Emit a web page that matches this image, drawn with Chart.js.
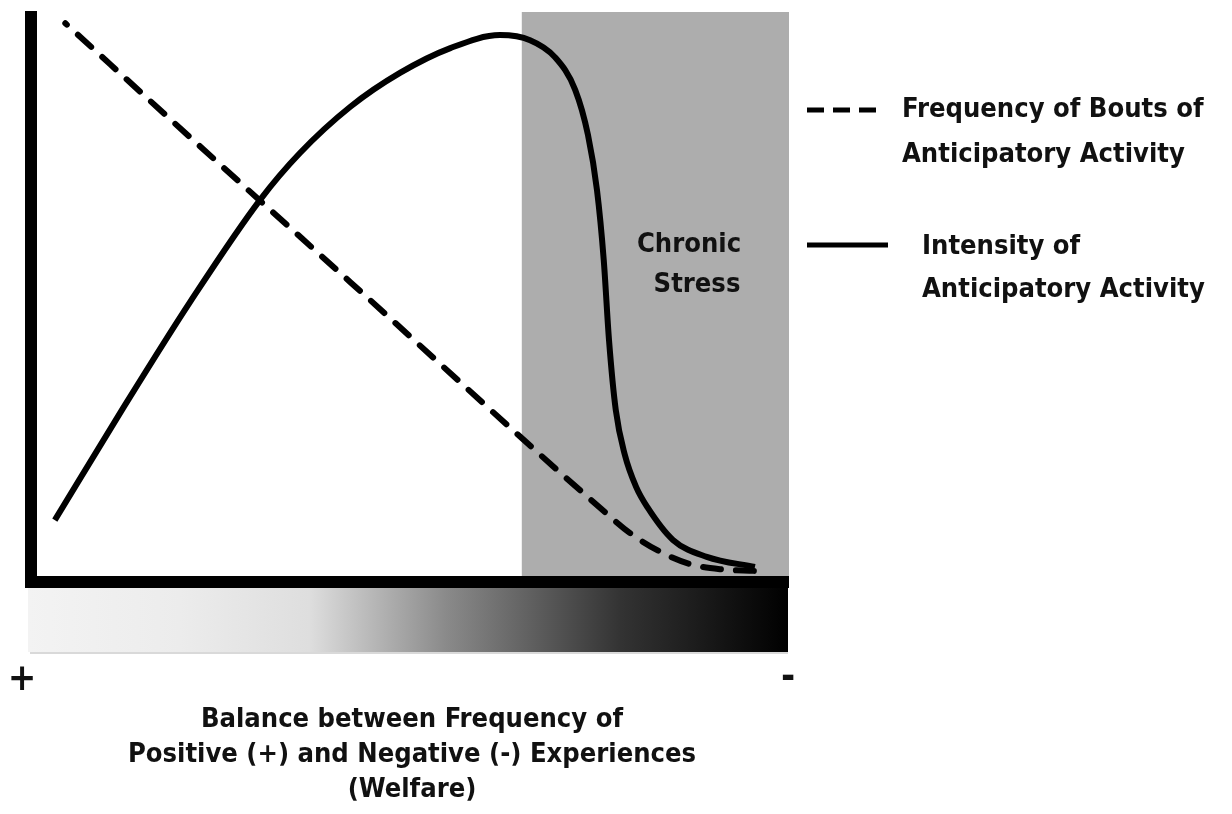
<!DOCTYPE html>
<html>
<head>
<meta charset="utf-8">
<script src="https://cdn.jsdelivr.net/npm/chart.js@4.4.0/dist/chart.umd.min.js"></script>
<style>
html, body { margin: 0; padding: 0; background: #fff; }
#wrap { width: 1232px; height: 814px; }
</style>
</head>
<body>
<div id="wrap"><canvas id="myChart" width="1232" height="814"></canvas></div>
<script>
/*** Datos (escala 0-100 en ambos ejes) ***/
// Frequency of Bouts of Anticipatory Activity (linea punteada)
const freqX = [3.9, 21.8, 41.8, 75.0, 79.0, 83.0, 87.0, 91.0, 95.6];
const freqY = [98.0, 76.2, 52.1, 12.1, 7.6, 4.3, 2.1, 1.2, 0.9];
// Intensity of Anticipatory Activity (linea continua)
const intX = [2.5, 11.6, 20.5, 29.8, 35.1, 41.8, 48.4, 55.1, 61.7, 65.7, 69.0, 71.7, 73.4, 74.6, 75.5, 76.2, 77.1, 78.3, 79.8, 81.3, 84.7, 89.2, 95.6];
const intY = [9.9, 29.8, 48.6, 66.7, 75.0, 83.2, 89.2, 93.6, 95.9, 95.0, 92.0, 86.2, 78.2, 68.4, 56.0, 41.8, 29.4, 21.5, 15.8, 12.2, 6.4, 3.4, 1.6];
// Zona de estres cronico
const stressRange = [64.6, 100];

const legendLabels = [
    ['Frequency of Bouts of', 'Anticipatory Activity'],
    ['Intensity of', 'Anticipatory Activity']
];
const bandLabel = ['Chronic', 'Stress'];
const axisTitle = ['Balance between Frequency of', 'Positive (+) and Negative (-) Experiences', '(Welfare)'];
const axisEnds = ['+', '-'];

const FONT = '"Liberation Sans Narrow", "DejaVu Sans Condensed", "Open Sans", sans-serif';

function toPoints(xs, ys) {
    return xs.map(function (x, i) { return {x: x, y: ys[i]}; });
}

/*** Banda gris ***/
const bandPlugin = {
    id: 'band',
    beforeDatasetsDraw(chart) {
        const ctx = chart.ctx;
        const xs = chart.scales.x, ys = chart.scales.y;
        const x0 = xs.getPixelForValue(stressRange[0]);
        const x1 = xs.getPixelForValue(stressRange[1]);
        ctx.save();
        ctx.fillStyle = '#adadad';
        ctx.fillRect(x0, ys.getPixelForValue(100), x1 - x0 + 1, ys.getPixelForValue(0) - ys.getPixelForValue(100));
        ctx.restore();
    }
};

/*** Ejes, degradado, textos y leyenda ***/
const decorPlugin = {
    id: 'decor',
    afterDatasetsDraw(chart) {
        const ctx = chart.ctx;
        const a = chart.chartArea;
        ctx.save();
        // ejes gruesos
        ctx.fillStyle = '#000';
        ctx.fillRect(a.left - 11, a.top - 1, 12, a.bottom - a.top + 13);
        ctx.fillRect(a.left - 11, a.bottom, a.right - a.left + 12, 12);
        // barra degradada
        const g = ctx.createLinearGradient(28, 0, 788, 0);
        g.addColorStop(0, '#f3f3f3');
        g.addColorStop(0.2, '#ececec');
        g.addColorStop(0.37, '#dedede');
        g.addColorStop(0.55, '#8a8a8a');
        g.addColorStop(0.78, '#333333');
        g.addColorStop(1, '#000000');
        ctx.fillStyle = g;
        ctx.fillRect(28, a.bottom + 12, 760, 64);
        ctx.fillStyle = 'rgba(0,0,0,0.15)';
        ctx.fillRect(30, a.bottom + 76, 758, 2);

        ctx.fillStyle = '#111';
        ctx.textBaseline = 'middle';
        // ajustar tamaño de letra al ancho del titulo
        let size = 28;
        ctx.font = 'bold ' + size + 'px ' + FONT;
        size = size * 569 / ctx.measureText(axisTitle[1]).width;
        ctx.font = 'bold ' + size.toFixed(1) + 'px ' + FONT;

        ctx.textAlign = 'center';
        axisTitle.forEach(function (t, i) { ctx.fillText(t, 412, 720 + i * 35); });
        ctx.fillText(bandLabel[0], 689, 245);
        ctx.fillText(bandLabel[1], 697, 285);

        ctx.textAlign = 'left';
        ctx.fillText(legendLabels[0][0], 902, 110);
        ctx.fillText(legendLabels[0][1], 902, 155);
        ctx.fillText(legendLabels[1][0], 922, 247);
        ctx.fillText(legendLabels[1][1], 922, 290);

        ctx.textAlign = 'center';
        ctx.font = 'bold ' + (size * 1.4).toFixed(1) + 'px ' + FONT;
        ctx.fillText(axisEnds[0], 22, 680);
        ctx.fillText(axisEnds[1], 788, 678);

        // muestras de la leyenda
        ctx.strokeStyle = '#000';
        ctx.lineWidth = 5;
        ctx.lineCap = 'butt';
        ctx.setLineDash([17, 9]);
        ctx.beginPath(); ctx.moveTo(807, 110); ctx.lineTo(882, 110); ctx.stroke();
        ctx.setLineDash([]);
        ctx.beginPath(); ctx.moveTo(807, 245); ctx.lineTo(888, 245); ctx.stroke();
        ctx.restore();
    }
};

const ctx = document.getElementById('myChart').getContext('2d');
const chart = new Chart(ctx, {
    type: 'line',
    data: {
        datasets: [
            {
                label: 'Frequency of Bouts of Anticipatory Activity',
                data: toPoints(freqX, freqY),
                borderColor: '#000',
                borderWidth: 6,
                borderDash: [18, 15],
                borderDashOffset: 16,
                borderCapStyle: 'round',
                cubicInterpolationMode: 'monotone',
                pointRadius: 0,
                fill: false
            },
            {
                label: 'Intensity of Anticipatory Activity',
                data: toPoints(intX, intY),
                borderColor: '#000',
                borderWidth: 6,
                borderCapStyle: 'butt',
                cubicInterpolationMode: 'monotone',
                pointRadius: 0,
                fill: false
            }
        ]
    },
    options: {
        responsive: false,
        animation: false,
        layout: { padding: { left: 36, top: 12, right: 444, bottom: 238 } },
        scales: {
            x: { type: 'linear', min: 0, max: 100, display: false },
            y: { type: 'linear', min: 0, max: 100, display: false }
        },
        plugins: {
            legend: { display: false },
            tooltip: { enabled: false }
        }
    },
    plugins: [bandPlugin, decorPlugin]
});
</script>
</body>
</html>
